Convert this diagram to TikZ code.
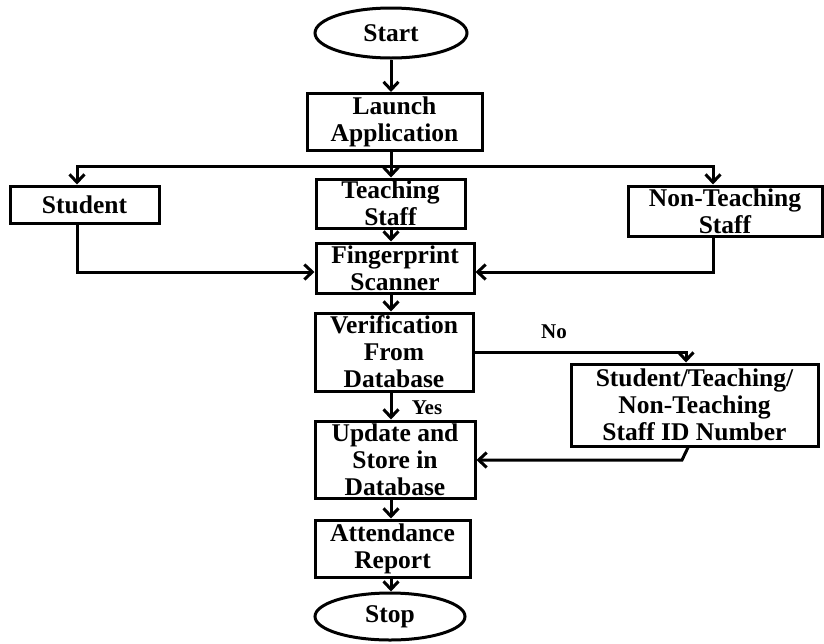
\documentclass[tikz,border=0pt]{standalone}
\usepackage{fontspec}
\setmainfont{Liberation Serif}
\usetikzlibrary{shapes.geometric,arrows.meta}
\begin{document}
\begin{tikzpicture}[x=1pt,y=-1pt,
  every node/.style={font=\fontsize{25.5}{27}\selectfont\bfseries},
  box/.style={draw,line width=3pt,rectangle,inner sep=0pt,align=center},
  term/.style={draw,line width=3pt,ellipse,inner sep=0pt,align=center},
  lbl/.style={font=\fontsize{21}{22}\selectfont\bfseries,inner sep=0pt},
  arr/.style={line width=3pt,-{Straight Barb[length=8pt,width=15pt,line width=3pt]}}]
\useasboundingbox (0,0) rectangle (824,643);
% nodes
\node[term,minimum width=152pt,minimum height=50pt] (start) at (391,33) {Start};
\node[box,minimum width=175pt,minimum height=57pt] (launch) at (394.5,122) {Launch\\Application};
\node[box,minimum width=149pt,minimum height=49pt] (teach) at (390.5,203.5) {Teaching\\Staff};
\node[box,minimum width=149pt,minimum height=37pt] (student) at (84.5,204.5) {Student};
\node[box,minimum width=194pt,minimum height=50pt] (nonteach) at (725,211) {Non-Teaching\\Staff};
\node[box,minimum width=158pt,minimum height=50pt] (finger) at (395,268) {Fingerprint\\Scanner};
\node[box,minimum width=158pt,minimum height=78pt] (verif) at (394,352) {Verification\\From\\Database};
\node[box,minimum width=247pt,minimum height=82pt] (id) at (694.5,405) {Student/Teaching/\\Non-Teaching\\Staff ID Number};
\node[box,minimum width=160pt,minimum height=77pt] (update) at (395,459.5) {Update and\\Store in\\Database};
\node[box,minimum width=155pt,minimum height=57pt] (attend) at (392.5,548.5) {Attendance\\Report};
\node[term,minimum width=150pt,minimum height=47pt] (stop) at (390,616.5) {Stop};
\node[lbl] (yes) at (427,408) {Yes};
\node[lbl] (no) at (554,332) {No};
% helper coordinates
\coordinate (col) at (391,0);
\coordinate (scol) at (77,0);
\coordinate (ncol) at (713,0);
\coordinate (brow) at (0,166);
\coordinate (frow) at (0,272);
\coordinate (nocol) at (686,0);
\coordinate (retA) at (688,0);
\coordinate (ret) at (682,460);
% connectors
\draw[arr] (start.south -| col) -- (launch.north -| col);
\draw[arr] (launch.south -| col) -- (teach.north -| col);
\draw[arr] (col |- brow) -| (student.north -| scol);
\draw[arr] (col |- brow) -| (nonteach.north -| ncol);
\draw[arr] (teach.south -| col) -- (finger.north -| col);
\draw[arr] (student.south -| scol) |- (finger.west |- frow);
\draw[arr] (nonteach.south -| ncol) |- (finger.east |- frow);
\draw[arr] (finger.south -| col) -- (verif.north -| col);
\draw[arr] (verif.east) -| (id.north -| nocol);
\draw[arr] (verif.south -| col) -- (update.north -| col);
\draw[arr] (id.south -| retA) -- (ret) -- (ret -| update.east);
\draw[arr] (update.south -| col) -- (attend.north -| col);
\draw[arr] (attend.south -| col) -- (stop.north -| col);
\end{tikzpicture}
\end{document}
